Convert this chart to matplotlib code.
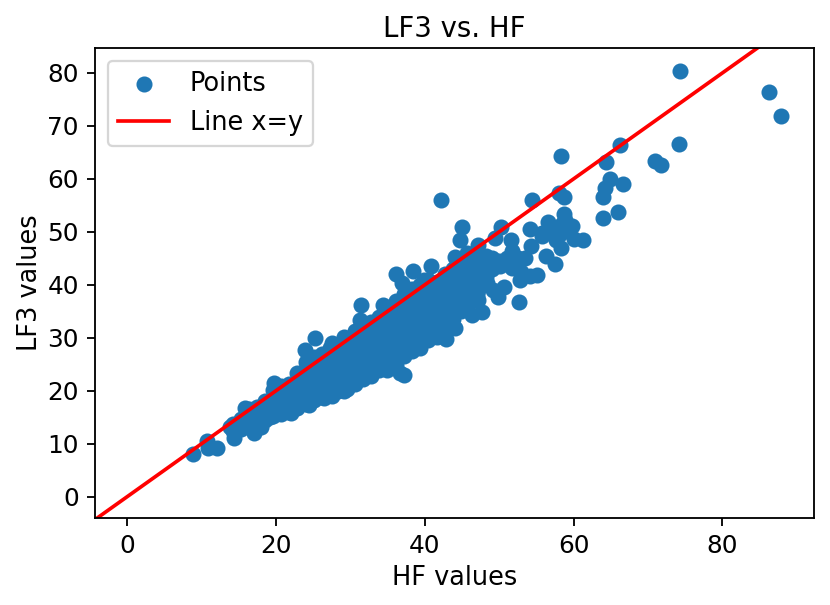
import matplotlib
matplotlib.use("Agg")
import matplotlib.pyplot as plt

# Individually read points (HF, LF3)
edge_hf = [74.3, 86.3, 87.9, 74.2, 71.0, 71.8, 42.2, 58.3, 66.2, 64.3, 66.6, 64.9, 64.2, 63.9, 64.0, 66.0,
           54.4, 58.0, 58.7, 58.7, 56.5, 54.1, 50.2, 45.0, 44.8, 59.8, 61.2, 60.0, 58.3, 57.5, 56.3, 54.3,
           51.6, 49.5, 47.2, 44.1, 45.7, 40.9, 38.4, 36.2, 37.0, 39.9, 52.6, 49.9, 50.7, 55.1, 54.2, 52.8,
           51.7, 53.5, 52.5, 51.7, 50.1, 48.3, 49.2, 47.7, 46.4, 45.7, 44.1, 42.9, 37.2,
           57.0, 55.8, 58.5, 57.6, 49.0, 48.0, 46.6,
           49.0, 50.0, 51.0, 52.0, 53.0, 48.5, 47.5, 46.5, 47.0, 45.5, 57.3, 58.2, 55.7, 59.0, 57.7, 58.9,
           8.9, 10.7, 10.9, 12.1, 14.4, 17.1, 13.8, 15.9, 19.7, 23.9, 25.3, 27.5, 29.1, 31.5, 31.3, 34.4,
           22.0, 24.4, 26.4, 27.5, 29.2, 31.9, 34.9, 36.7, 19.2, 18.0]
edge_lf3 = [80.4, 76.4, 71.9, 66.6, 63.4, 62.6, 56.0, 64.4, 66.4, 63.1, 59.1, 59.9, 58.2, 56.5, 52.6, 53.7,
            56.0, 57.3, 56.5, 53.4, 51.9, 50.5, 51.0, 51.0, 48.5, 51.1, 48.4, 48.7, 46.9, 44.0, 45.5, 47.4,
            48.5, 48.8, 47.5, 45.3, 46.0, 43.6, 42.7, 42.1, 40.3, 40.9, 36.7, 37.8, 39.6, 41.9, 41.6, 40.9,
            43.1, 45.0, 45.0, 46.3, 43.5, 40.3, 39.1, 34.8, 34.3, 36.5, 31.8, 29.8, 23.0,
            50.0, 49.3, 51.5, 49.4, 43.0, 44.5, 42.0,
            45.0, 44.5, 45.0, 43.5, 42.5, 43.0, 41.5, 40.0, 38.0, 38.0, 50.4, 49.6, 49.7, 50.4, 48.4, 52.3,
            8.1, 10.5, 9.3, 9.2, 11.1, 12.0, 13.2, 16.7, 21.4, 27.7, 29.9, 29.0, 30.2, 36.2, 33.4, 36.2,
            15.8, 17.3, 18.6, 19.0, 19.9, 22.6, 24.0, 23.3, 15.1, 13.2]

# Dense central cloud: HF position with the LF3 readings seen there
core_hf = [14.2, 15.3, 16.4, 17.5, 18.6, 19.6, 20.7, 21.8, 22.9, 24.0, 25.1, 26.2, 27.3, 28.4, 29.5, 30.6,
           31.7, 32.8, 33.9, 35.0, 36.1, 37.2, 38.3, 39.4, 40.5, 41.6, 42.7, 43.8, 44.9, 46.0, 47.1, 48.2]
core_lf3 = [
    [12.5, 13.8], [12.8, 14.6], [13.4, 15.5, 16.6], [13.6, 15.0, 16.9],
    [14.5, 16.2, 18.0], [15.2, 17.0, 18.6, 20.2], [15.7, 17.3, 19.1, 20.9], [16.0, 17.6, 19.3, 21.2],
    [16.8, 18.5, 20.2, 21.9, 23.3], [17.5, 19.1, 20.8, 22.5, 24.2, 25.4], [18.3, 19.9, 21.6, 23.3, 25.0, 26.4],
    [18.8, 20.4, 22.1, 23.8, 25.6, 27.0], [19.4, 21.2, 22.8, 24.6, 26.3, 28.0], [20.0, 21.7, 23.4, 25.1, 26.9, 28.5],
    [20.4, 22.2, 24.0, 25.8, 27.5, 29.3], [21.3, 23.0, 24.8, 26.5, 28.2, 30.0, 31.2],
    [22.3, 24.0, 25.7, 27.4, 29.1, 30.8, 32.3], [22.8, 24.6, 26.3, 28.0, 29.8, 31.5, 33.0],
    [23.9, 25.5, 27.2, 28.9, 30.6, 32.3, 34.0], [24.4, 26.1, 27.8, 29.6, 31.3, 33.0, 34.8],
    [24.9, 26.9, 28.7, 30.4, 32.1, 33.8, 35.5, 37.0], [26.5, 28.2, 30.0, 31.7, 33.4, 35.1, 36.8, 38.2],
    [27.5, 29.3, 31.0, 32.7, 34.4, 36.1, 37.8, 39.3], [28.0, 29.8, 31.5, 33.2, 35.0, 36.7, 38.4, 40.0],
    [29.5, 31.2, 33.0, 34.7, 36.4, 38.1, 39.8, 41.0], [30.2, 32.0, 33.7, 35.4, 37.1, 38.8, 40.5],
    [32.0, 33.8, 35.5, 37.2, 38.9, 40.6, 42.0], [33.5, 35.2, 36.9, 38.6, 40.3, 42.0, 43.0],
    [35.0, 36.8, 38.5, 40.2, 41.9, 43.5], [36.5, 38.6, 40.5, 42.3, 44.0],
    [37.2, 39.0, 41.0, 43.0, 45.0], [41.5, 43.5, 45.5],
]

line_ends = [-10, 100]

hf = edge_hf + [x for x, ys in zip(core_hf, core_lf3) for _ in ys]
lf3 = edge_lf3 + [y for ys in core_lf3 for y in ys]

dpi = 165
fig = plt.figure(figsize=(830 / dpi, 605 / dpi), dpi=dpi)
ax = fig.add_axes([95 / 830, (605 - 518) / 605, (814 - 95) / 830, (518 - 48) / 605])
ax.scatter(hf, lf3, label="Points")
ax.plot(line_ends, line_ends, color="red", linewidth=1.6, label="Line x=y")
ax.set_xlim(-4.3, 92.3)
ax.set_ylim(-4.0, 84.7)
ax.tick_params(labelsize=10.8)
ax.set_xlabel("HF values", fontsize=11.2, labelpad=3)
ax.set_ylabel("LF3 values", fontsize=11.2, labelpad=2)
ax.set_title("LF3 vs. HF", fontsize=12, pad=5)
ax.legend(loc="upper left", fontsize=11.2)
fig.savefig("out.png", dpi=dpi)
